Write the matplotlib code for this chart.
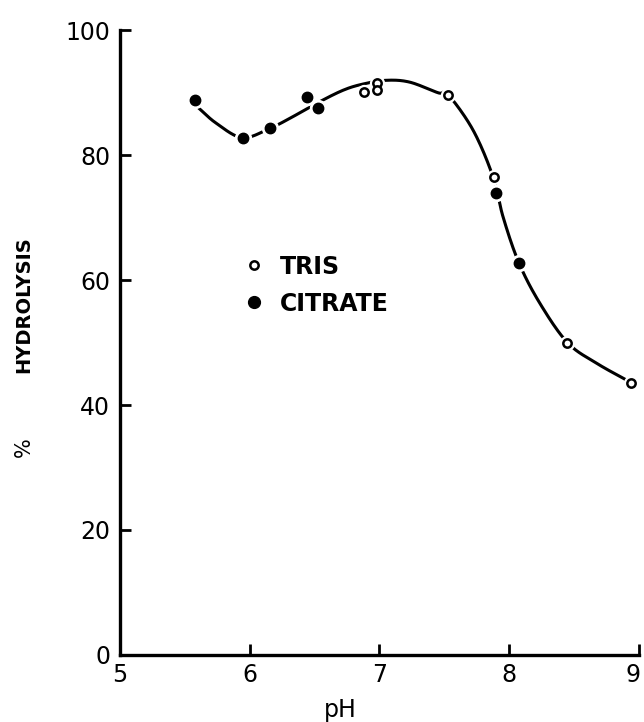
import numpy as np
import matplotlib
matplotlib.use("Agg")
import matplotlib.pyplot as plt
import matplotlib.transforms as mtransforms
from matplotlib.lines import Line2D

# measured points
tris_ph = [6.88, 6.98, 6.98, 7.53, 7.88, 8.45, 8.94]
tris_hyd = [90.2, 91.5, 90.4, 89.7, 76.5, 50.0, 43.6]
citrate_ph = [5.58, 5.95, 6.16, 6.44, 6.53, 7.90, 8.08]
citrate_hyd = [88.8, 82.8, 84.3, 89.4, 87.6, 74.0, 62.8]

# hand drawn curve
curve_ph = [5.60, 5.745, 5.946, 6.156, 6.31, 6.516, 6.72, 6.875, 7.055, 7.235,
            7.453, 7.53, 7.723, 7.877, 7.954, 8.075, 8.237, 8.45, 8.674, 8.94]
curve_hyd = [87.7, 85.1, 82.8, 84.3, 85.9, 88.3, 90.4, 91.4, 92.0, 91.7,
             90.0, 89.7, 84.0, 76.5, 70.1, 62.8, 56.3, 50.0, 46.7, 43.6]

x_ticks = [5, 6, 7, 8, 9]
y_ticks = [0, 20, 40, 60, 80, 100]


def catmull_rom(xs, ys, n=24):
    p = np.column_stack([xs, ys])
    p = np.vstack([2*p[0] - p[1], p, 2*p[-1] - p[-2]])
    out = []
    t = np.linspace(0, 1, n, endpoint=False)[:, None]
    for i in range(1, len(p) - 2):
        p0, p1, p2, p3 = p[i-1], p[i], p[i+1], p[i+2]
        seg = 0.5*((2*p1) + (-p0 + p2)*t + (2*p0 - 5*p1 + 4*p2 - p3)*t**2
                   + (-p0 + 3*p1 - 3*p2 + p3)*t**3)
        out.append(seg)
    out.append(p[-2][None, :])
    out = np.vstack(out)
    return out[:, 0], out[:, 1]


fig = plt.figure(figsize=(6.44, 7.22), dpi=100)
ax = fig.add_axes([0.186, 0.093, 0.806, 0.865])

cx, cy = catmull_rom(curve_ph, curve_hyd)
ax.plot(cx, cy, color='k', lw=2.2, zorder=2)

# white halo so the line breaks at each point
ax.plot(citrate_ph, citrate_hyd, 'o', ms=9.5, mfc='k', mec='white', mew=3, zorder=3)
ax.plot(citrate_ph, citrate_hyd, 'o', ms=7.5, mfc='k', mec='k', zorder=4)
ax.plot(tris_ph, tris_hyd, 'o', ms=8, mfc='white', mec='white', mew=3, zorder=3)
ax.plot(tris_ph, tris_hyd, 'o', ms=6, mfc='white', mec='k', mew=1.8, zorder=4)

ax.set_xlim(5, 9)
ax.set_ylim(0, 100)
ax.set_xticks(x_ticks)
ax.set_yticks(y_ticks)
ax.set_xticklabels([str(v) for v in x_ticks], fontsize=17)
ax.set_yticklabels([str(v) for v in y_ticks], fontsize=17)
ax.tick_params(direction='in', length=8, width=2, pad=7)
ax.tick_params(axis='x', pad=6)
for s in ['top', 'right']:
    ax.spines[s].set_visible(False)
for s in ['left', 'bottom']:
    ax.spines[s].set_linewidth(2.4)

# keep the last x label inside the canvas
last = ax.get_xticklabels()[-1]
last.set_transform(last.get_transform() +
                   mtransforms.ScaledTranslation(-4/72, 0, fig.dpi_scale_trans))

ax.set_xlabel('pH', fontsize=17, x=0.424, labelpad=8)

fig.text(0.037, 0.578, 'HYDROLYSIS', rotation=90, fontsize=14,
         family=['Liberation Sans Narrow', 'DejaVu Sans'],
         fontweight='bold', ha='center', va='center')
fig.text(0.037, 0.381, '%', rotation=90, fontsize=15,
         ha='center', va='center')

handles = [
    Line2D([], [], ls='none', marker='o', ms=6, mfc='white', mec='k', mew=1.8),
    Line2D([], [], ls='none', marker='o', ms=8.5, mfc='k', mec='k'),
]
ax.legend(handles, ['TRIS', 'CITRATE'], loc='upper left',
          bbox_to_anchor=(0.19, 0.675), frameon=False,
          prop={'size': 17, 'weight': 'bold'}, handletextpad=0.5,
          labelspacing=0.55, handlelength=1.2)

fig.savefig('out.png', dpi=100)
